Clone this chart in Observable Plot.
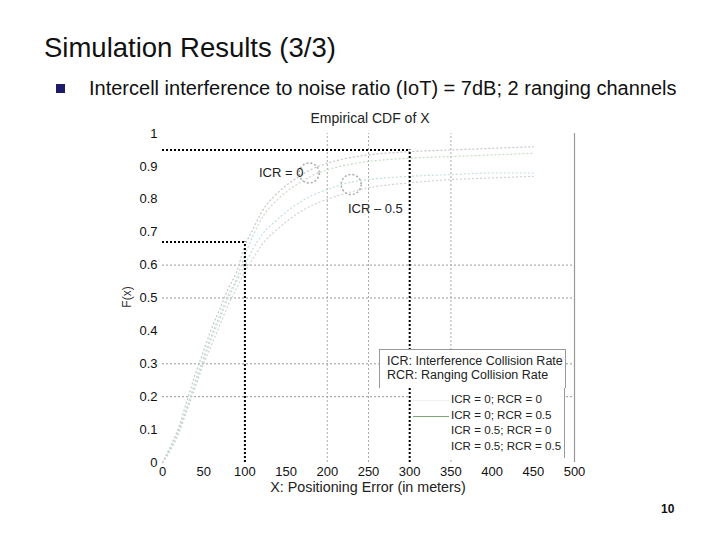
<!DOCTYPE html>
<html>
<head>
<meta charset="utf-8">
<script src="https://cdn.jsdelivr.net/npm/d3@7"></script>
<script src="https://cdn.jsdelivr.net/npm/@observablehq/plot@0.6"></script>
<style>
  html, body { margin: 0; padding: 0; background: #fff; }
  #page { position: relative; width: 720px; height: 540px; overflow: hidden; font-family: "Liberation Sans", Arial, sans-serif; }
  #chart { position: absolute; left: 0; top: 0; }
  .abs { position: absolute; white-space: nowrap; }
</style>
</head>
<body>
<div id="page">
  <div id="chart"></div>
  <div class="abs" style="left:44px; top:32px; font-size:27.5px; color:#111;">Simulation Results (3/3)</div>
  <div class="abs" style="left:56px; top:84px; width:9px; height:9px; background:#1c1c6a;"></div>
  <div class="abs" style="left:89px; top:77px; font-size:20px; color:#111;">Intercell interference to noise ratio (IoT) = 7dB; 2 ranging channels</div>
  <div class="abs" style="left:290px; top:110px; width:160px; text-align:center; font-size:14px; color:#222;">Empirical CDF of X</div>
  <div class="abs" style="left:116px; top:290px; font-size:12px; color:#333; transform:rotate(-90deg); transform-origin:center;">F(x)</div>
  <div class="abs" style="left:218px; top:479px; width:300px; text-align:center; font-size:14.3px; color:#222;">X: Positioning Error (in meters)</div>
  <div id="legend"></div>
  <div class="abs" style="left:661px; top:502px; font-size:12px; font-weight:bold; color:#111;">10</div>
</div>
<script>
// ---- data ----
const errorX = [0,10,20,30,40,50,60,70,80,90,100,110,120,140,160,180,200,225,250,300,350,400,450];
const cdfIcr0Rcr0   = [0,0.05,0.11,0.19,0.27,0.34,0.41,0.47,0.53,0.58,0.66,0.71,0.76,0.82,0.86,0.89,0.91,0.925,0.935,0.945,0.95,0.955,0.96];
const cdfIcr0Rcr05  = [0,0.04,0.10,0.17,0.25,0.32,0.39,0.45,0.51,0.56,0.63,0.69,0.74,0.80,0.84,0.87,0.89,0.905,0.915,0.925,0.93,0.935,0.94];
const cdfIcr05Rcr0  = [0,0.05,0.10,0.17,0.24,0.31,0.38,0.44,0.50,0.55,0.60,0.65,0.69,0.74,0.78,0.81,0.83,0.85,0.86,0.87,0.875,0.88,0.88];
const cdfIcr05Rcr05 = [0,0.04,0.09,0.16,0.23,0.30,0.36,0.42,0.48,0.53,0.58,0.62,0.66,0.71,0.75,0.78,0.80,0.82,0.835,0.85,0.86,0.865,0.87];
const seriesNames = ["ICR = 0; RCR = 0", "ICR = 0; RCR = 0.5", "ICR = 0.5; RCR = 0", "ICR = 0.5; RCR = 0.5"];
const seriesColors = ["#c4c4c4", "#c2dcc2", "#bfdede", "#d0d0d0"];
const legendColors = ["#f0f0f0", "#7aa87a", "#ffffff", "#ffffff"];
const xTicks = [0,50,100,150,200,250,300,350,400,450,500];
const yTicks = [0,0.1,0.2,0.3,0.4,0.5,0.6,0.7,0.8,0.9,1];
const gridY = [0.2,0.3,0.5,0.6];
const gridX = [200,250,350];
const refX = [100,300];
const refY = [0.67,0.95];
const annX = [178,229];
const annY = [0.88,0.845];
const annLabels = ["ICR = 0", "ICR – 0.5"];
const annLabelX = [171,225];
const annLabelY = [0.88,0.772];

const allSeries = [cdfIcr0Rcr0, cdfIcr0Rcr05, cdfIcr05Rcr0, cdfIcr05Rcr05];
const rows = [];
allSeries.forEach((s, i) => s.forEach((v, j) => rows.push({x: errorX[j], y: v, k: seriesNames[i]})));
const refs = refX.map((x, i) => ({x, y: refY[i]}));
const anns = annX.map((x, i) => ({x, y: annY[i], lx: annLabelX[i], ly: annLabelY[i], t: annLabels[i]}));

const chart = Plot.plot({
  width: 720, height: 540,
  marginLeft: 162, marginRight: 146, marginTop: 133, marginBottom: 78,
  style: {fontFamily: "Liberation Sans, Arial, sans-serif", fontSize: "13px", color: "#111", background: "transparent"},
  x: {domain: [0, 500]},
  y: {domain: [0, 1]},
  color: {domain: seriesNames, range: seriesColors},
  marks: [
    Plot.ruleY(gridY, {x1: 0, x2: 500, stroke: "#999", strokeDasharray: "2,2", strokeWidth: 1}),
    Plot.ruleX(gridX, {y1: 0, y2: 1, stroke: "#aaa", strokeDasharray: "2,2", strokeWidth: 1}),
    Plot.ruleX([500], {y1: 0, y2: 1, stroke: "#999", strokeWidth: 1.2}),
    Plot.line(rows, {x: "x", y: "y", z: "k", stroke: "k", strokeWidth: 1.2, strokeDasharray: "1,3", curve: "monotone-x"}),
    Plot.ruleY(refs, {y: "y", x1: 0, x2: "x", stroke: "#000", strokeWidth: 2, strokeDasharray: "2,2"}),
    Plot.ruleX(refs, {x: "x", y1: 0, y2: "y", stroke: "#000", strokeWidth: 2, strokeDasharray: "2,2"}),
    Plot.dot(anns, {x: "x", y: "y", r: 10, stroke: "#aaa", strokeDasharray: "2,2", fill: "none"}),
    Plot.text(anns.slice(0, 1), {x: "lx", y: "ly", text: "t", textAnchor: "end", fontSize: 13, fill: "#222"}),
    Plot.text(anns.slice(1), {x: "lx", y: "ly", text: "t", textAnchor: "start", fontSize: 13, fill: "#222"}),
    Plot.axisX(xTicks, {tickSize: 0, tickPadding: 4, label: null, fontSize: 13, fill: "#111"}),
    Plot.axisY(yTicks, {tickSize: 0, tickPadding: 5, label: null, fontSize: 13, fill: "#111", tickFormat: d => d === 0 ? "0" : d === 1 ? "1" : d3.format(".1f")(d)})
  ]
});
document.getElementById("chart").appendChild(chart);

// legend (HTML)
const lg = document.getElementById("legend");
lg.innerHTML =
  '<div class="abs" style="left:379px; top:349px; width:185px; height:38px; background:#fff; border:1px solid #999; border-bottom:none;">' +
  '<div style="position:absolute; left:7px; top:5px; font-size:12.5px; line-height:13.5px; color:#222;">ICR: Interference Collision Rate<br>RCR: Ranging Collision Rate</div></div>' +
  '<div class="abs" style="left:411px; top:388px; width:153px; height:70px; background:#fff; border-right:1px solid #999;"></div>';
seriesNames.forEach((n, i) => {
  const top = 392 + i * 15.5;
  lg.innerHTML +=
    '<div class="abs" style="left:413px; top:' + (top + 8) + 'px; width:36px; height:1px; background:' + legendColors[i] + ';"></div>' +
    '<div class="abs" style="left:451px; top:' + top + 'px; font-size:11.6px; color:#222;">' + n + '</div>';
});
</script>
</body>
</html>
